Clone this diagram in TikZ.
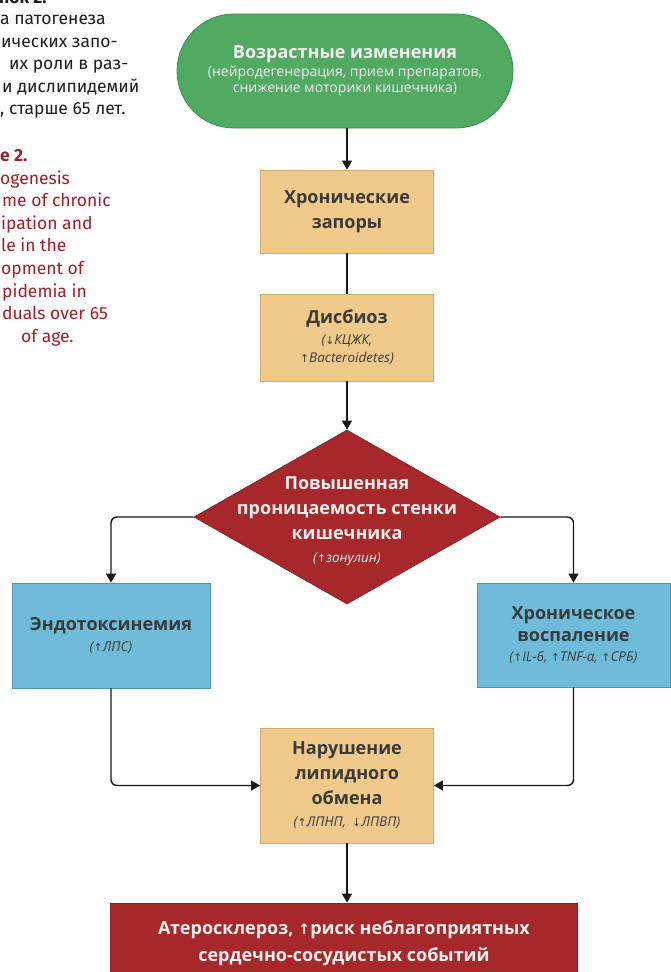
\documentclass[tikz,border=0pt]{standalone}
\usepackage{fontspec}
\setmainfont{Open Sans}
\newfontfamily\capfont{Fira Sans}
\newfontfamily\arrfont{DejaVu Sans}
\usetikzlibrary{shapes.geometric,arrows.meta}
\newcommand\myup{{\arrfont\fontsize{0.8em}{1em}\selectfont\char"2191}}
\newcommand\mydn{{\arrfont\fontsize{0.8em}{1em}\selectfont\char"2193}}
\definecolor{grn}{RGB}{80,170,98}
\definecolor{grnB}{RGB}{60,140,78}
\definecolor{tanF}{RGB}{240,202,138}
\definecolor{tanB}{RGB}{212,170,100}
\definecolor{bluF}{RGB}{110,188,217}
\definecolor{bluB}{RGB}{78,148,184}
\definecolor{rdF}{RGB}{166,40,42}
\definecolor{rdB}{RGB}{138,30,32}
\definecolor{txt}{RGB}{58,58,58}
\definecolor{wtxt}{RGB}{245,240,240}
\definecolor{captred}{RGB}{163,30,36}
\definecolor{capblk}{RGB}{30,30,30}
\tikzset{
  base/.style={align=center, inner sep=0pt, line width=0.8pt},
  tanbox/.style={base, draw=tanB, fill=tanF, text=txt, font=\bfseries\fontsize{18}{25}\selectfont, minimum width=173, text width=170},
  blubox/.style={base, draw=bluB, fill=bluF, text=txt, font=\bfseries\fontsize{18}{22}\selectfont},
  startbox/.style={base, draw=grnB, fill=grn, text=wtxt, rounded corners=57, minimum width=336, minimum height=114, font=\bfseries\fontsize{18}{20}\selectfont},
  diam/.style={diamond, draw=rdB, fill=rdF, inner sep=0pt, line width=0.8pt, minimum width=306, minimum height=174},
  dtext/.style={align=center, inner sep=0pt, text=wtxt, font=\bfseries\fontsize{18}{25}\selectfont},
  endbox/.style={base, draw=rdB, fill=rdF, text=wtxt, minimum width=467, minimum height=81, font=\bfseries\fontsize{18}{27}\selectfont},
  ln/.style={line width=1.4pt, draw=black!90},
  arr/.style={ln, -{Triangle[length=9pt,width=10pt]}},
  capru/.style={anchor=base west, inner sep=0pt, text=capblk, font=\capfont\fontsize{17.5}{20}\selectfont},
  capen/.style={anchor=base west, inner sep=0pt, text=captred, font=\capfont\fontsize{17.5}{20}\selectfont},
}
\newcommand\subit[1]{{\mdseries\itshape\fontsize{13.5}{18}\selectfont #1}}
\newcommand\subrm[1]{{\mdseries\fontsize{14}{18}\selectfont #1}}
\begin{document}
\begin{tikzpicture}[x=1pt,y=-1pt]
\useasboundingbox (0,0) rectangle (671,972);
\clip (0,0) rectangle (671,972);
\fill[white] (0,0) rectangle (671,972);

% caption (cropped at the left edge)
\node[capru, font=\capfont\bfseries\fontsize{17.5}{20}\selectfont] (r0) at (-1,3) {нок 2.};
\node[capru] (r1) at (0,24.5) {а патогенеза};
\node[capru] (r2) at (1,47) {ических запо-};
\node[capru] (r3) at (9,69.5) {их роли в раз-};
\node[capru] (r4) at (2,92) {и дислипидемий};
\node[capru] (r5) at (0,114.5) {, старше 65 лет.};

\node[capen, font=\capfont\bfseries\fontsize{17.5}{20}\selectfont] (e0) at (0,161.4) {e 2.};
\node[capen] (e1) at (0,184) {ogenesis};
\node[capen] (e2) at (2,206.6) {me of chronic};
\node[capen] (e3) at (1,229.2) {ipation and};
\node[capen] (e4) at (1,251.8) {le in the};
\node[capen] (e5) at (1,274.4) {opment of};
\node[capen] (e6) at (2,297) {pidemia in};
\node[capen] (e7) at (2,319.6) {duals over 65};
\node[capen] (e8) at (21,342.2) {of age.};

% flowchart
\node[startbox] (age) at (345,71) {Возрастные изменения\\[-2pt]\subrm{(нейродегенерация, прием препаратов,}\\[-4pt]\subrm{снижение моторики кишечника)}};
\node[tanbox, minimum height=83] (chron) at (347,211.5) {Хронические\\запоры};
\node[tanbox, minimum height=87] (dys) at (347,337.5) {Дисбиоз\\[-4pt]\subit{(\mydn КЦЖК,}\\[-7pt]\subit{\myup Bacteroidetes)}};
\node[diam] (perm) at (347,517) {};
\node[dtext] (permtxt) at (347,521) {Повышенная\\проницаемость стенки\\кишечника\\[-2pt]\subit{(\myup зонулин)}};
\node[blubox, minimum width=198, minimum height=105] (endo) at (111,635.5) {Эндотоксинемия\\[-1pt]\subit{(\myup ЛПС)}};
\node[blubox, minimum width=193, minimum height=104] (infl) at (573.5,635) {Хроническое\\воспаление\\[-2pt]\subit{(\myup IL-6, \myup TNF-α, \myup СРБ)}};
\node[tanbox, minimum height=115] (lipid) at (347,785.5) {Нарушение\\липидного\\обмена\\[-3pt]\subit{(\myup ЛПНП, \mydn ЛПВП)}};
\node[endbox] (ath) at (344,943.5) {Атеросклероз, \myup риск неблагоприятных\\сердечно-сосудистых событий};

\draw[arr] (chron.north |- age.south) -- (chron);
\draw[ln] (chron) -- (dys);
\draw[arr] (dys) -- (perm.north);
\draw[arr, rounded corners=6] (perm.west) -| (endo.north);
\draw[arr, rounded corners=6] (perm.east) -| (infl.north);
\draw[arr, rounded corners=6] (endo.south) |- (lipid.west);
\draw[arr, rounded corners=6] (infl.south) |- (lipid.east);
\draw[arr] (lipid.south) -- (lipid.south |- ath.north);
\end{tikzpicture}
\end{document}
